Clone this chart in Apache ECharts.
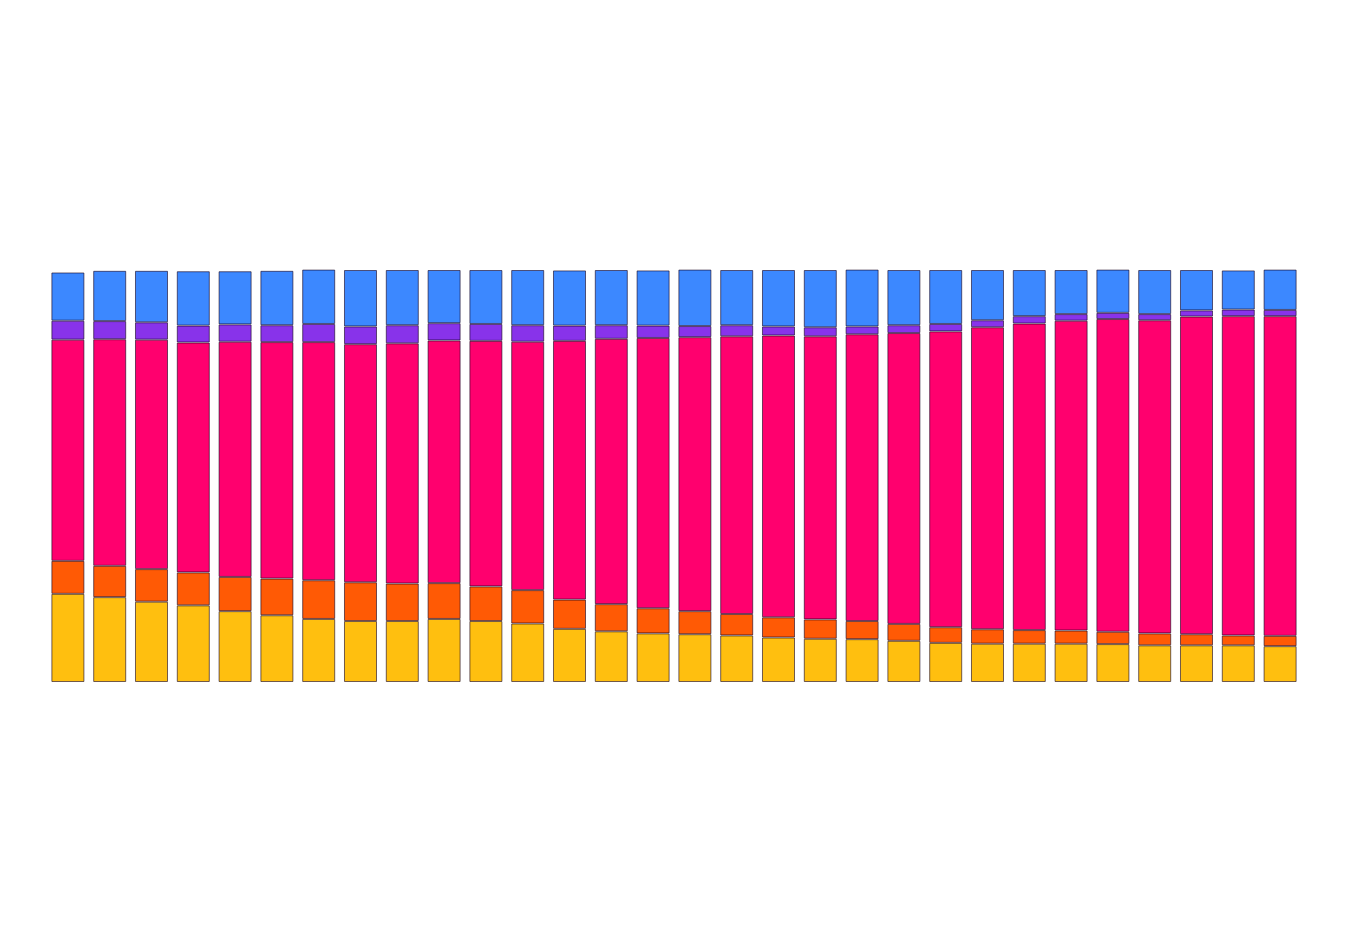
<!DOCTYPE html>
<html>
<head>
<meta charset="utf-8">
<script src="https://cdn.jsdelivr.net/npm/echarts@6/dist/echarts.min.js"></script>
<style>html,body{margin:0;padding:0;background:#fff}#c{width:1348px;height:952px}</style>
</head>
<body>
<div id="c"></div>
<script>
const categories = Array.from({length: 30}, (_, i) => String(i + 1));
const yellow = [21.4,20.6,19.5,18.6,17.2,16.2,15.3,14.8,14.8,15.3,14.8,14.2,12.9,12.3,11.8,11.6,11.3,10.8,10.5,10.4,10.0,9.5,9.3,9.3,9.3,9.2,8.9,8.9,8.9,8.7];
const orange = [8.0,7.6,7.9,8.0,8.3,8.9,9.4,9.4,9.1,8.7,8.4,8.1,7.1,6.6,6.1,5.6,5.2,4.9,4.7,4.4,4.1,3.8,3.5,3.3,3.2,3.0,2.9,2.7,2.4,2.5];
const pink = [53.7,55.0,55.7,55.8,57.1,57.4,57.8,57.8,58.3,58.9,59.6,60.3,62.8,64.4,65.6,66.5,67.4,68.4,68.7,69.6,70.6,71.8,73.3,74.4,75.2,75.9,76.0,77.1,77.5,77.6];
const purple = [4.6,4.4,4.2,4.1,4.2,4.1,4.4,4.3,4.4,4.2,4.1,4.0,3.7,3.3,3.0,2.7,2.7,2.2,2.2,1.9,1.9,1.8,1.7,1.8,1.6,1.5,1.5,1.5,1.6,1.5];
const blue = [11.7,12.2,12.5,13.2,12.9,13.2,13.2,13.7,13.4,12.9,13.1,13.4,13.4,13.4,13.4,13.7,13.4,13.7,13.9,13.8,13.4,13.1,12.2,11.2,10.7,10.5,10.7,9.8,9.5,9.8];

const seriesDefs = [
  {name: 'A', data: yellow, color: '#FFBF0F'},
  {name: 'B', data: orange, color: '#FF5A05'},
  {name: 'C', data: pink, color: '#FF006E'},
  {name: 'D', data: purple, color: '#8833EA'},
  {name: 'E', data: blue, color: '#3C88FF'}
];

const chart = echarts.init(document.getElementById('c'), null, {renderer: 'canvas'});
chart.setOption({
  animation: false,
  backgroundColor: '#ffffff',
  grid: {left: 47, right: 47, top: 270, bottom: 270},
  xAxis: {type: 'category', data: categories, show: false},
  yAxis: {type: 'value', min: 0, max: 100, show: false},
  series: seriesDefs.map(s => ({
    name: s.name,
    type: 'bar',
    stack: 'total',
    data: s.data,
    barCategoryGap: '21%',
    itemStyle: {color: s.color, borderColor: 'rgba(20,0,30,0.6)', borderWidth: 1}
  }))
});
</script>
</body>
</html>
